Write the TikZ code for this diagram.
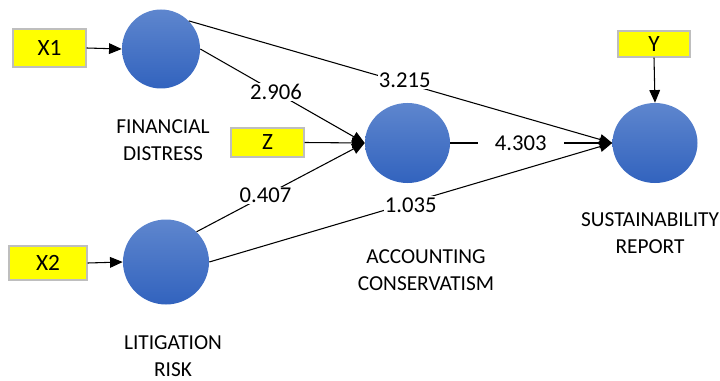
\documentclass[tikz,border=0pt]{standalone}
\usepackage{fontspec}
\setmainfont{Carlito}
\usetikzlibrary{shapes.geometric,arrows.meta}
\definecolor{boxyellow}{RGB}{255,255,0}
\definecolor{boxgray}{RGB}{190,190,190}
\definecolor{bluetop}{RGB}{94,134,206}
\definecolor{bluebot}{RGB}{50,99,190}
\tikzset{
  latent/.style={ellipse,inner sep=0pt,draw=none,top color=bluetop,bottom color=bluebot},
  ybox/.style={rectangle,fill=boxyellow,draw=boxgray,line width=1.1pt,inner sep=0pt,font=\fontsize{17.5}{20}\selectfont},
  arr/.style={draw=black,line width=0.8pt,-{Triangle[length=9.5pt,width=8pt]}},
  coef/.style={fill=white,inner sep=1pt,font=\fontsize{17}{20}\selectfont},
  captext/.style={align=center,inner sep=0pt,font=\fontsize{16}{20}\selectfont}
}
\begin{document}
\begin{tikzpicture}[x=0.75pt,y=-0.75pt]
\useasboundingbox (0,0) rectangle (720,381);
% latent variables
\node[latent,minimum width=58.5pt,minimum height=59.25pt] (fd) at (161,49) {};
\node[latent,minimum width=63.75pt,minimum height=60pt] (ac) at (407.5,143) {};
\node[latent,minimum width=63.75pt,minimum height=60pt] (sr) at (655,143) {};
\node[latent,minimum width=64.5pt,minimum height=63.75pt] (lr) at (166,262) {};
% indicator boxes
\node[ybox,minimum width=54.75pt,minimum height=28.5pt] (x1) at (49.5,48) {X1};
\node[ybox,minimum width=54.75pt,minimum height=21.75pt] (z) at (267.5,142.5) {Z};
\node[ybox,minimum width=54pt,minimum height=19.5pt] (y) at (654,44) {Y};
\node[ybox,minimum width=58.5pt,minimum height=25.5pt] (x2) at (48,263) {X2};
% captions
\node[captext] (cfd) at (163,140) {FINANCIAL\\DISTRESS};
\node[captext] (cac) at (426,270) {ACCOUNTING\\CONSERVATISM};
\node[captext] (csr) at (650,233) {SUSTAINABILITY\\REPORT};
\node[captext] (clr) at (173,356) {LITIGATION\\RISK};
% connectors
\draw[arr] (x1.east) -- (fd.west);
\draw[arr] (x2.east) -- (lr.west);
\draw[arr] (z.east) -- (ac.west);
\draw[arr] (y.south) -- (sr.north);
\draw[arr] (fd.east) -- node[coef,pos=0.46] (c1) {2.906} (ac.west);
\draw[arr] (lr.north east) -- node[coef,pos=0.41] (c2) {0.407} (ac.west);
\draw[arr] (fd.north east) -- node[coef,pos=0.51,yshift=2pt] (c3) {3.215} (sr.west);
\draw[arr] (lr.east) -- node[coef,pos=0.5,yshift=-2pt] (c4) {1.035} (sr.west);
\draw[arr] (ac.east) -- node[coef,pos=0.435,inner xsep=13pt] (c5) {4.303} (sr.west);
\end{tikzpicture}
\end{document}
